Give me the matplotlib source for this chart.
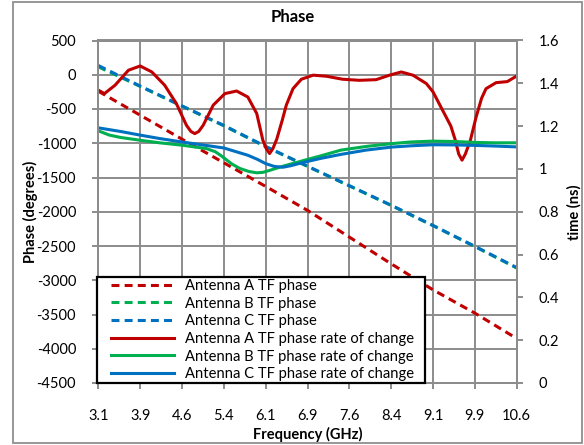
import matplotlib
matplotlib.use("Agg")
import matplotlib.pyplot as plt
from matplotlib.patches import Rectangle
from matplotlib.legend_handler import HandlerLine2D
import numpy as np

plt.rcParams['font.family'] = ['Lato', 'DejaVu Sans']

# ---------------- data ----------------
freq_ticks = [3.1, 3.85, 4.6, 5.35, 6.1, 6.85, 7.6, 8.35, 9.1, 9.85, 10.6]
xtick_labels = ["3.1", "3.9", "4.6", "5.4", "6.1", "6.9", "7.6", "8.4", "9.1", "9.9", "10.6"]

phase_freq = [3.1, 3.85, 4.6, 5.35, 6.1, 6.85, 7.6, 8.35, 9.1, 9.85, 10.6]
phase_A = [-240, -590, -940, -1285, -1630, -1980, -2370, -2760, -3140, -3480, -3850]
phase_B = [115, -170, -458, -745, -1050, -1338, -1622, -1908, -2203, -2508, -2822]
phase_C = [135, -165, -455, -740, -1047, -1335, -1620, -1905, -2200, -2505, -2815]

rateA_f = [3.10, 3.21, 3.40, 3.64, 3.85, 4.06, 4.29, 4.50, 4.68, 4.76, 4.83, 4.90, 4.98,
           5.16, 5.37, 5.58, 5.78, 5.94, 6.05, 6.11, 6.17, 6.23, 6.30, 6.40, 6.47, 6.59,
           6.74, 6.95, 7.19, 7.48, 7.78, 8.08, 8.32, 8.53, 8.74, 8.98, 9.10, 9.22, 9.32,
           9.42, 9.50, 9.56, 9.62, 9.68, 9.77, 9.87, 9.97, 10.05, 10.23, 10.43, 10.60]
rateA_t = [1.368, 1.352, 1.391, 1.461, 1.481, 1.453, 1.391, 1.305, 1.204, 1.175, 1.165, 1.175, 1.204,
           1.298, 1.352, 1.364, 1.336, 1.259, 1.134, 1.095, 1.072, 1.095, 1.140, 1.230, 1.298, 1.375,
           1.419, 1.438, 1.433, 1.419, 1.414, 1.417, 1.438, 1.453, 1.438, 1.399, 1.360, 1.300, 1.250,
           1.200, 1.134, 1.070, 1.041, 1.070, 1.134, 1.240, 1.330, 1.375, 1.403, 1.408, 1.434]

rateB_f = [3.10, 3.30, 3.50, 3.85, 4.20, 4.60, 5.04, 5.20, 5.30, 5.40, 5.50, 5.64, 5.80, 5.94, 6.05,
           6.18, 6.40, 6.65, 6.90, 7.10, 7.45, 7.90, 8.35, 8.70, 9.10, 9.50, 9.85, 10.20, 10.60]
rateB_t = [1.178, 1.158, 1.147, 1.134, 1.122, 1.111, 1.095, 1.080, 1.062, 1.042, 1.022, 1.002, 0.988, 0.982, 0.984,
           0.994, 1.012, 1.030, 1.048, 1.062, 1.088, 1.105, 1.118, 1.126, 1.130, 1.128, 1.124, 1.122, 1.122]

rateC_f = [3.10, 3.50, 3.85, 4.20, 4.60, 5.00, 5.35, 5.64, 5.78, 5.95, 6.10, 6.25, 6.41, 6.55, 6.65,
           6.90, 7.10, 7.45, 7.90, 8.35, 8.70, 9.10, 9.50, 9.85, 10.20, 10.60]
rateC_t = [1.192, 1.175, 1.158, 1.142, 1.126, 1.111, 1.098, 1.075, 1.064, 1.045, 1.025, 1.012, 1.008, 1.015, 1.022,
           1.038, 1.050, 1.068, 1.088, 1.102, 1.108, 1.113, 1.112, 1.110, 1.107, 1.103]

left_ticks = list(range(-4500, 501, 500))
right_ticks = [0, 0.2, 0.4, 0.6, 0.8, 1.0, 1.2, 1.4, 1.6]
right_labels = ["0", "0.2", "0.4", "0.6", "0.8", "1", "1.2", "1.4", "1.6"]

labels = ["Antenna A TF phase", "Antenna B TF phase", "Antenna C TF phase",
          "Antenna A TF phase rate of change", "Antenna B TF phase rate of change",
          "Antenna C TF phase rate of change"]

RED, GREEN, BLUE = "#C00000", "#00B050", "#0070C0"
GRID = "#8c8c8c"

# ---------------- figure ----------------
W, H = 584, 445
fig = plt.figure(figsize=(W / 100, H / 100), dpi=100)
fig.patch.set_facecolor("white")
fig.patches.append(Rectangle((13 / W, 1 - 443 / H), (582 - 13) / W, (443 - 2) / H,
                             transform=fig.transFigure, fill=False, edgecolor="#8f8f8f", lw=1.3))

x0, x1, ytop, ybot = 98.3, 516.7, 40.5, 383
ax = fig.add_axes([x0 / W, 1 - ybot / H, (x1 - x0) / W, (ybot - ytop) / H])
ax2 = ax.twinx()

LW = 2.2
dash = (2.6, 1.7)
hA, = ax.plot(phase_freq, phase_A, color=RED, lw=LW, dashes=dash)
hB, = ax.plot(phase_freq, phase_B, color=GREEN, lw=LW, dashes=dash)
hC, = ax.plot(phase_freq, phase_C, color=BLUE, lw=LW, dashes=dash)
rA, = ax2.plot(rateA_f, rateA_t, color=RED, lw=LW, solid_joinstyle="round")
rB, = ax2.plot(rateB_f, rateB_t, color=GREEN, lw=LW, solid_joinstyle="round")
rC, = ax2.plot(rateC_f, rateC_t, color=BLUE, lw=LW, solid_joinstyle="round")

ax.set_xlim(3.1, 10.6)
ax.set_ylim(-4500, 500)
ax2.set_ylim(0, 1.6)
ax.set_xticks(freq_ticks)
ax.set_xticklabels(xtick_labels)
ax.set_yticks(left_ticks)
ax.set_yticklabels([str(v) for v in left_ticks])
ax2.set_yticks(right_ticks)
ax2.set_yticklabels(right_labels)

ax.grid(True, color=GRID, lw=1.4)
ax.set_axisbelow(True)
for a in (ax, ax2):
    for s in a.spines.values():
        s.set_color(GRID)
        s.set_linewidth(1.4)
ax2.patch.set_visible(False)

fs = 10.5
ax.tick_params(axis="y", direction="out", length=4, width=1.4, color=GRID, labelsize=fs, pad=12)
ax.tick_params(axis="x", direction="out", length=4, width=1.4, color=GRID, labelsize=fs, pad=15)
ax2.tick_params(axis="y", direction="out", length=4, width=1.4, color=GRID, labelsize=fs, pad=12)

fig.text(293 / W, 1 - 17.5 / H, "Phase", ha="center", va="center", fontsize=12, weight="bold")
fig.text(307.7 / W, 1 - 434 / H, "Frequency (GHz)", ha="center", va="center", fontsize=fs, weight="bold")
fig.text(30 / W, 1 - 212 / H, "Phase (degrees)", ha="center", va="center", rotation=90,
         fontsize=fs, weight="bold")
fig.text(574 / W, 1 - 212 / H, "time (ns)", ha="center", va="center", rotation=90,
         fontsize=fs, weight="bold")


class ShiftedLine(HandlerLine2D):
    """Line handle that leaves a small blank gap at its left end."""
    def get_xdata(self, legend, xdescent, ydescent, width, height, fontsize):
        gap = 0.8 * fontsize
        xd = np.array([-xdescent + gap, -xdescent + width])
        return xd, xd


leg_fs = 10.6
leg = ax2.legend([hA, hB, hC, rA, rB, rC], labels, loc="lower left",
                 bbox_to_anchor=(97 / W, 1 - ybot / H, 328 / W, 107 / H),
                 bbox_transform=fig.transFigure, mode="expand",
                 frameon=True, fancybox=False, edgecolor="black", framealpha=1,
                 fontsize=leg_fs, handlelength=5.1, handletextpad=0.75, labelspacing=0.25,
                 borderpad=0.12, borderaxespad=0,
                 handler_map={hA: ShiftedLine(), hB: ShiftedLine(), hC: ShiftedLine(),
                              rA: ShiftedLine(), rB: ShiftedLine(), rC: ShiftedLine()})
leg.get_frame().set_linewidth(1.6)
leg.set_zorder(10)

fig.savefig("out.png", dpi=100)
